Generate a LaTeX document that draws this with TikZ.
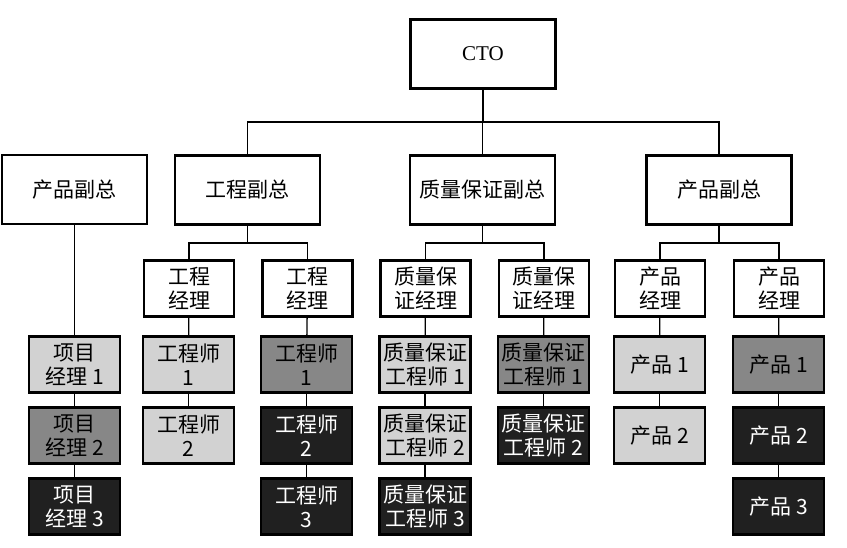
\documentclass[tikz,border=0pt]{standalone}
\usepackage{fontspec}
\setmainfont{Liberation Serif}
\newfontfamily\cjk{Noto Sans CJK SC}
\definecolor{lightbox}{RGB}{210,210,210}
\definecolor{midbox}{RGB}{135,135,135}
\definecolor{darkbox}{RGB}{32,32,32}
\tikzset{
  box/.style={draw=black, line width=2.4pt, fill=white, inner sep=0pt, align=center,
    font=\cjk\fontsize{21}{24}\selectfont},
  big/.style={box, minimum width=145pt, minimum height=69pt},
  mid/.style={box, minimum width=90pt, minimum height=56pt},
  small/.style={box, minimum width=91pt, minimum height=56pt},
  lt/.style={small, fill=lightbox, text=black},
  md/.style={small, fill=midbox, text=black},
  dk/.style={small, fill=darkbox, text=white},
  link/.style={draw=black, line width=1.3pt},
}
\begin{document}
\begin{tikzpicture}[x=1pt,y=-1pt]
\useasboundingbox (0,0) rectangle (847,547);
% level 1
\node[big, font=\fontsize{21}{24}\selectfont] (cto) at (483,54) {CTO};
% level 2
\node[big] (pl) at (74.5,189.5) {产品副总};
\node[big] (eng) at (247.5,190) {工程副总};
\node[big] (qa) at (482.5,190) {质量保证副总};
\node[big] (pr) at (719,190) {产品副总};
% level 3
\node[mid] (e1) at (189,288.5) {工程\\经理};
\node[mid] (e2) at (307.5,288.5) {工程\\经理};
\node[mid] (q1) at (425.5,288.5) {质量保\\证经理};
\node[mid] (q2) at (544,288.5) {质量保\\证经理};
\node[mid] (p1) at (660,288.5) {产品\\经理};
\node[mid] (p2) at (779,288.5) {产品\\经理};
% level 4
\node[lt] (m1) at (74.5,364.5) {项目\\经理 1};
\node[md] (m2) at (74.5,435.5) {项目\\经理 2};
\node[dk] (m3) at (74.5,506.5) {项目\\经理 3};
\node[lt] (a1) at (188.5,364.5) {工程师\\1};
\node[lt] (a2) at (188.5,435.5) {工程师\\2};
\node[md] (b1) at (306.5,364.5) {工程师\\1};
\node[dk] (b2) at (306.5,435.5) {工程师\\2};
\node[dk] (b3) at (306.5,506.5) {工程师\\3};
\node[lt] (c1) at (425,364.5) {质量保证\\工程师 1};
\node[lt] (c2) at (425,435.5) {质量保证\\工程师 2};
\node[dk] (c3) at (425,506.5) {质量保证\\工程师 3};
\node[md] (d1) at (543.5,364.5) {质量保证\\工程师 1};
\node[dk] (d2) at (543.5,435.5) {质量保证\\工程师 2};
\node[lt] (f1) at (659.5,364.5) {产品 1};
\node[lt] (f2) at (659.5,435.5) {产品 2};
\node[md] (g1) at (778.5,364.5) {产品 1};
\node[dk] (g2) at (778.5,435.5) {产品 2};
\node[dk] (g3) at (778.5,506.5) {产品 3};
% bus coordinates
\coordinate (bus) at (483,122);
\coordinate (ebus) at (247.5,243);
\coordinate (qbus) at (482.5,243);
\coordinate (pbus) at (719,243);
% connectors
\draw[link] (cto.south) -- (bus);
\draw[link] (eng.north) -- (eng.north |- bus) -- (pr.north |- bus) -- (pr.north);
\draw[link] (qa.north) -- (qa.north |- bus);
\draw[link] (eng.south) -- (ebus);
\draw[link] (e1.north) -- (e1.north |- ebus) -- (e2.north |- ebus) -- (e2.north);
\draw[link] (qa.south) -- (qbus);
\draw[link] (q1.north) -- (q1.north |- qbus) -- (q2.north |- qbus) -- (q2.north);
\draw[link] (pr.south) -- (pbus);
\draw[link] (p1.north) -- (p1.north |- pbus) -- (p2.north |- pbus) -- (p2.north);
\draw[link] (pl.south) -- (m1.north);
\draw[link] (m1) -- (m2); \draw[link] (m2) -- (m3);
\draw[link] (e1) -- (a1); \draw[link] (a1) -- (a2);
\draw[link] (e2) -- (b1); \draw[link] (b1) -- (b2); \draw[link] (b2) -- (b3);
\draw[link] (q1) -- (c1); \draw[link] (c1) -- (c2); \draw[link] (c2) -- (c3);
\draw[link] (q2) -- (d1); \draw[link] (d1) -- (d2);
\draw[link] (p1) -- (f1); \draw[link] (f1) -- (f2);
\draw[link] (p2) -- (g1); \draw[link] (g1) -- (g2); \draw[link] (g2) -- (g3);
\end{tikzpicture}
\end{document}
